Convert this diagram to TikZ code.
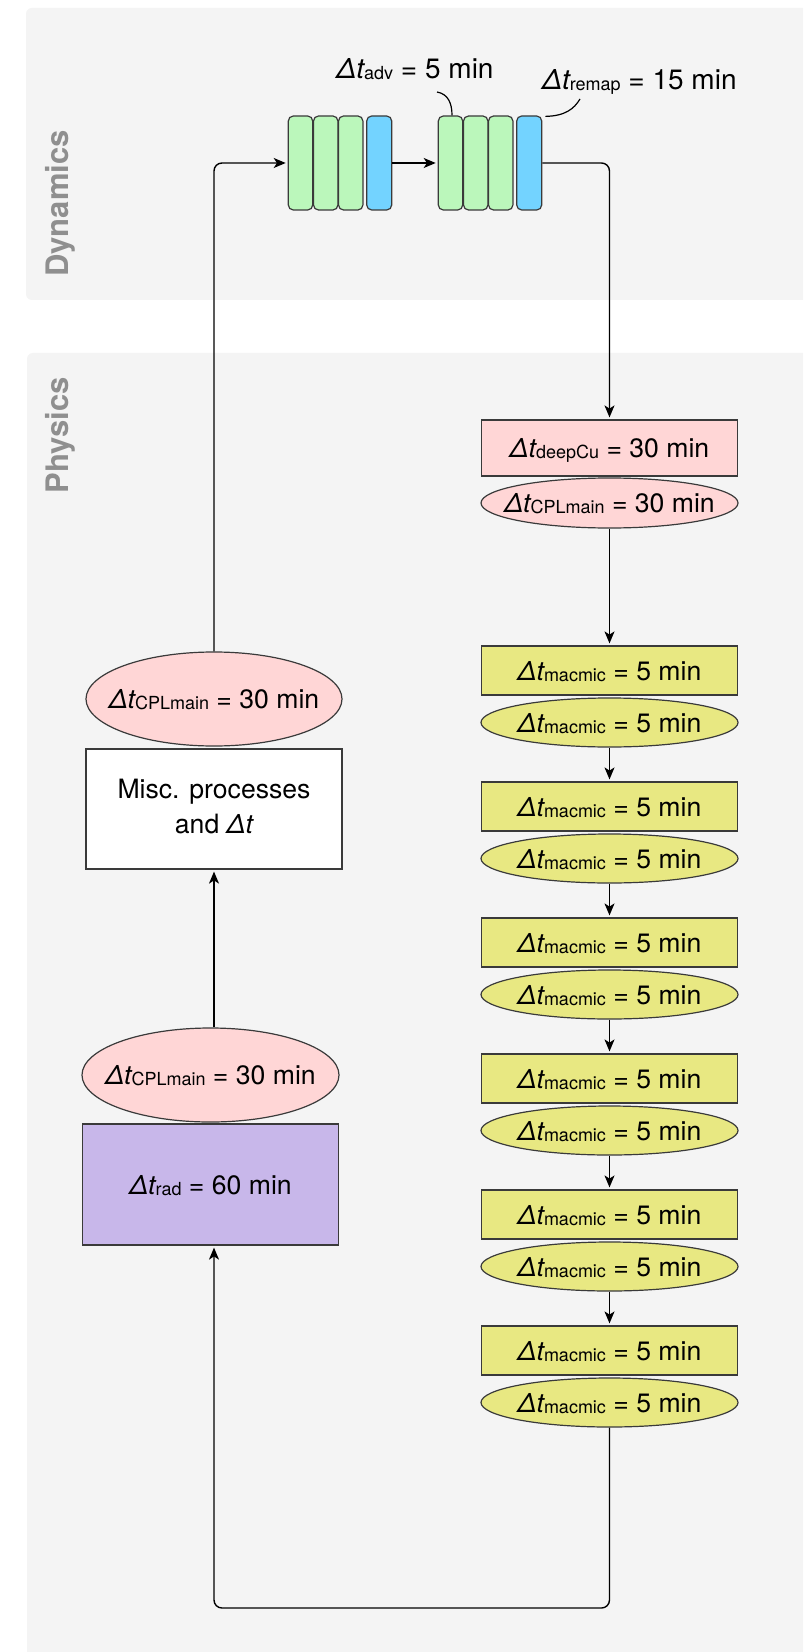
\documentclass[tikz,border=0pt]{standalone}
\usepackage{fontspec}
\setmainfont{TeX Gyre Heros}
\usetikzlibrary{arrows.meta,shapes.geometric}
\definecolor{panelbg}{RGB}{244,244,244}
\definecolor{panellab}{RGB}{143,143,143}
\definecolor{edgegray}{RGB}{58,58,58}
\definecolor{pinkfill}{RGB}{255,214,214}
\definecolor{yelfill}{RGB}{232,232,130}
\definecolor{purpfill}{RGB}{200,183,234}
\definecolor{greenfill}{RGB}{187,247,187}
\definecolor{bluefill}{RGB}{115,211,255}
\newcommand{\Dtsub}[1]{{\itshape Δt}{\fontsize{9}{9}\selectfont\raisebox{-0.5pt}{#1}}}
\begin{document}
\begin{tikzpicture}[x=0.5pt,y=-0.5pt,
  panellabel/.style={rotate=90,anchor=base,inner sep=0pt,text=panellab,
    font=\fontsize{15.5}{15.5}\selectfont\bfseries},
  boxtext/.style={font=\fontsize{13.3}{13.3}\selectfont,text height=9.5pt,text depth=0pt},
  rectbox/.style={boxtext,draw=edgegray,line width=0.6pt,inner sep=0pt,
    minimum width=128.25pt},
  ellbox/.style={boxtext,ellipse,draw=edgegray,line width=0.6pt,inner sep=0pt,
    minimum width=128.5pt},
  blk/.style={draw=edgegray,line width=0.6pt,rounded corners=2.5pt,inner sep=0pt,
    minimum width=12.2pt,minimum height=47pt},
  lbl/.style={inner sep=0pt,font=\fontsize{14}{14}\selectfont},
  arr/.style={draw=black,line width=0.7pt,-{Stealth[length=6pt,width=5pt,inset=1.6pt]},
    shorten >=1pt},
  callout/.style={draw=black,line width=0.6pt}
]
\useasboundingbox (0,0) rectangle (803,1652);
\clip (0,0) rectangle (803,1652);
\fill[white] (0,0) rectangle (803,1652);
% panels
\fill[panelbg,rounded corners=3pt] (26,8) rectangle (840,300);
\fill[panelbg,rounded corners=3pt] (27,353) rectangle (840,1700);
\node[panellabel] (dynlab) at (68.5,203.5) {Dynamics};
\node[panellabel] (phylab) at (68.5,435) {Physics};
% dynamics blocks
\node[blk,fill=greenfill] (g1a) at (300.5,163) {};
\node[blk,fill=greenfill] (g1b) at (325.7,163) {};
\node[blk,fill=greenfill] (g1c) at (350.7,163) {};
\node[blk,fill=bluefill,minimum width=12.5pt] (b1) at (379.2,163) {};
\node[blk,fill=greenfill] (g2a) at (450.5,163) {};
\node[blk,fill=greenfill] (g2b) at (475.7,163) {};
\node[blk,fill=greenfill] (g2c) at (500.7,163) {};
\node[blk,fill=bluefill,minimum width=12.5pt] (b2) at (529.2,163) {};
% labels
\node[lbl,anchor=base] (advlab) at (415,78.3) {\Dtsub{adv} = 5 min};
\node[lbl,anchor=base west] (remaplab) at (541.7,90) {\Dtsub{remap} = 15 min};
\coordinate (advc) at (437,92);
\coordinate (remc) at (580,99);
\draw[callout] (advc) .. controls (448,94) and (452,103) .. (g2a.north -| 452,0);
\draw[callout] (b2.north east) ++(3,1) .. controls (565,116) and (574,109) .. (remc);
% physics right column
\node[rectbox,fill=pinkfill,minimum height=28pt] (deep) at (609.5,448) {\Dtsub{deepCu} = 30 min};
\node[ellbox,fill=pinkfill,minimum height=25pt] (cplr) at (609.5,503) {\makebox[0pt]{\Dtsub{CPLmain} = 30 min}};
\foreach \i in {1,...,6} {
  \pgfmathsetmacro{\by}{670.5+136*(\i-1)}
  \pgfmathsetmacro{\ey}{722.5+136*(\i-1)}
  \node[rectbox,fill=yelfill,minimum height=24.5pt] (m\i) at (609.5,\by) {\Dtsub{macmic} = 5 min};
  \node[ellbox,fill=yelfill,minimum height=24.5pt] (e\i) at (609.5,\ey) {\makebox[0pt]{\Dtsub{macmic} = 5 min}};
}
% physics left column
\node[ellbox,fill=pinkfill,minimum height=47pt,minimum width=128pt] (cplu) at (214,699) {\makebox[0pt]{\Dtsub{CPLmain} = 30 min}};
\node[draw=edgegray,line width=0.6pt,fill=white,inner sep=0pt,minimum width=128pt,minimum height=60pt,
  align=center,font=\fontsize{13.3}{17.5}\selectfont,text depth=3pt] (misc) at (214,809) {Misc. processes\\and {\itshape Δt}};
\node[ellbox,fill=pinkfill,minimum height=47pt] (cpll) at (210.5,1075) {\makebox[0pt]{\Dtsub{CPLmain} = 30 min}};
\node[rectbox,fill=purpfill,minimum height=60.5pt] (rad) at (210.5,1184.5) {\Dtsub{rad} = 60 min};
% connectors
\coordinate (lb) at (214,1608);
\draw[arr,rounded corners=4pt] (cplu.north) |- (g1a.west);
\draw[arr] (b1.east) -- (g2a.west);
\draw[arr,rounded corners=4pt] (b2.east) -| (deep.north);
\draw[arr] (cplr.south) -- (m1.north);
\foreach \i [evaluate=\i as \j using int(\i+1)] in {1,...,5} {
  \draw[arr] (e\i.south) -- (m\j.north);
}
\draw[arr] (cpll.north -| misc.south) -- (misc.south);
\draw[arr,rounded corners=4pt] (e6.south) -- (e6.south |- lb) -- (lb) -- (rad.south -| lb);
\end{tikzpicture}
\end{document}
